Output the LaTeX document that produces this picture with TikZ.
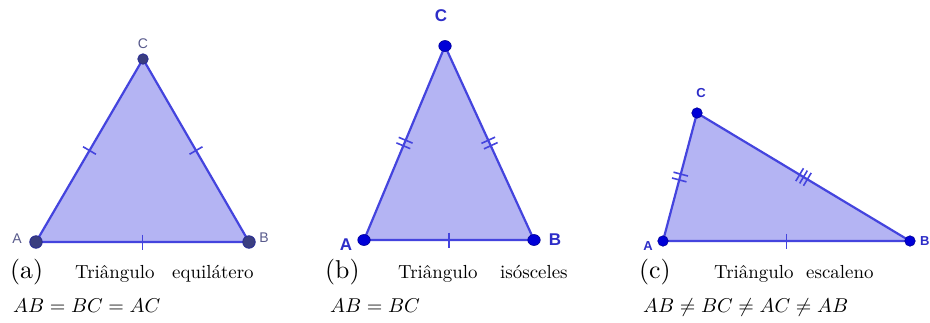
\documentclass[tikz,border=0pt]{standalone}
\usepackage{fontspec}
\newfontfamily\labfont{Liberation Sans}
\usetikzlibrary{calc,shapes.geometric}
\definecolor{edgeblue}{RGB}{68,68,222}
\definecolor{fillblue}{RGB}{180,180,243}
\definecolor{dotdark}{RGB}{58,62,128}
\definecolor{dotdarkrim}{RGB}{40,44,150}
\definecolor{dotblue}{RGB}{0,0,215}
\definecolor{dotbluerim}{RGB}{0,0,150}
\definecolor{labgray}{RGB}{88,90,140}
\definecolor{labblue}{RGB}{45,45,200}
\tikzset{
  tri/.style={draw=edgeblue, fill=fillblue, line width=2.2pt, line join=round},
  tickline/.style={draw=edgeblue, line width=1.6pt},
  dota/.style={circle, fill=dotdark, draw=dotdarkrim, line width=0.8pt, inner sep=0pt, minimum size=12.5pt},
  dotb/.style={ellipse, fill=dotblue, draw=dotbluerim, line width=0.6pt, inner sep=0pt, minimum width=12.5pt, minimum height=11pt},
  dotc/.style={circle, fill=dotblue, draw=dotbluerim, line width=0.6pt, inner sep=0pt, minimum size=10.5pt},
  laba/.style={text=labgray, font=\labfont\fontsize{14}{14}\selectfont, inner sep=0pt},
  labb/.style={text=labblue, font=\labfont\bfseries\fontsize{17}{17}\selectfont, inner sep=0pt},
  labc/.style={text=labblue, font=\labfont\bfseries\fontsize{13}{13}\selectfont, inner sep=0pt},
  sublab/.style={anchor=base west, inner sep=0pt, font=\fontsize{10}{12}\selectfont},
  captxt/.style={anchor=base west, inner sep=0pt, font=\fontsize{10}{12}\selectfont},
  mathtxt/.style={anchor=base west, inner sep=0pt, font=\fontsize{10}{12}\selectfont},
}
\newcommand{\subl}[1]{\scalebox{2.58}{#1}}
\newcommand{\capt}[1]{\scalebox{1.89}{#1}}
\newcommand{\mtxt}[1]{\scalebox{2.0}{#1}}
% single tick at middle of edge #1--#2
\newcommand{\onetick}[2]{%
  \coordinate (tkM) at ($(#1)!0.5!(#2)$);
  \draw[tickline] ($(tkM)!7.5pt!90:(#2)$) -- ($(tkM)!7.5pt!-90:(#2)$);}
\newcommand{\twotick}[2]{%
  \coordinate (tkM) at ($(#1)!0.5!(#2)$);
  \coordinate (tkP) at ($(tkM)!3pt!(#2)$);
  \coordinate (tkQ) at ($(tkM)!-3pt!(#2)$);
  \draw[tickline] ($(tkP)!7.5pt!90:(#2)$) -- ($(tkP)!7.5pt!-90:(#2)$);
  \draw[tickline] ($(tkQ)!7.5pt!90:(#2)$) -- ($(tkQ)!7.5pt!-90:(#2)$);}
\newcommand{\threetick}[2]{%
  \coordinate (tkM) at ($(#1)!0.5!(#2)$);
  \coordinate (tkP) at ($(tkM)!4.5pt!(#2)$);
  \coordinate (tkQ) at ($(tkM)!-4.5pt!(#2)$);
  \draw[tickline] ($(tkP)!7.5pt!90:(#2)$) -- ($(tkP)!7.5pt!-90:(#2)$);
  \draw[tickline] ($(tkM)!7.5pt!90:(#2)$) -- ($(tkM)!7.5pt!-90:(#2)$);
  \draw[tickline] ($(tkQ)!7.5pt!90:(#2)$) -- ($(tkQ)!7.5pt!-90:(#2)$);}
\begin{document}
\begin{tikzpicture}[x=1pt,y=-1pt]
\useasboundingbox[fill=white] (0,0) rectangle (930,322);

% ---------- (a) equilateral ----------
\coordinate (aA) at (36,242);
\coordinate (aB) at (249,242);
\coordinate (aC) at (143,59);
\draw[tri] (aA) -- (aB) -- (aC) -- cycle;
\onetick{aA}{aC}
\onetick{aB}{aC}
\onetick{aA}{aB}
\node[dota] (daA) at (aA) {};
\node[dota] (daB) at (aB) {};
\node[dota, minimum size=10.5pt] (daC) at (aC) {};
\node[laba] (laA) at (17,239) {A};
\node[laba] (laB) at (264,238) {B};
\node[laba] (laC) at (143,44) {C};

% ---------- (b) isosceles ----------
\coordinate (bA) at (364,240);
\coordinate (bB) at (534,240);
\coordinate (bC) at (445,46);
\draw[tri] (bA) -- (bB) -- (bC) -- cycle;
\twotick{bA}{bC}
\twotick{bB}{bC}
\onetick{bA}{bB}
\node[dotb] (dbA) at (bA) {};
\node[dotb] (dbB) at (bB) {};
\node[dotb] (dbC) at (bC) {};
\node[labb] (lbA) at (346,245) {A};
\node[labb] (lbB) at (555,240) {B};
\node[labb] (lbC) at (441,16) {C};

% ---------- (c) scalene ----------
\coordinate (cA) at (663,241);
\coordinate (cB) at (910,241);
\coordinate (cC) at (697,113);
\draw[tri] (cA) -- (cB) -- (cC) -- cycle;
\twotick{cA}{cC}
\threetick{cB}{cC}
\onetick{cA}{cB}
\node[dotc] (dcA) at (cA) {};
\node[dotc] (dcB) at (cB) {};
\node[dotc] (dcC) at (cC) {};
\node[labc] (lcA) at (648,246) {A};
\node[labc, anchor=west] (lcB) at (920,241) {B};
\node[labc] (lcC) at (701,93) {C};

% ---------- captions ----------
\node[sublab] (sa) at (10,278) {\subl{(a)}};
\node[captxt] (ta1) at (75,278) {\capt{Triângulo}};
\node[captxt] (ta2) at (172,278) {\capt{equilátero}};
\node[mathtxt] (ma) at (13,312) {\mtxt{$AB=BC=AC$}};

\node[sublab] (sb) at (325,278) {\subl{(b)}};
\node[captxt] (tb1) at (398,278) {\capt{Triângulo}};
\node[captxt] (tb2) at (500,278) {\capt{isósceles}};
\node[mathtxt] (mb) at (330,312) {\mtxt{$AB=BC$}};

\node[sublab] (sc) at (639,278) {\subl{(c)}};
\node[captxt] (tc1) at (714,278) {\capt{Triângulo}};
\node[captxt] (tc2) at (806,278) {\capt{escaleno}};
\node[mathtxt] (mc) at (643,312) {\mtxt{$AB\neq BC\neq AC\neq AB$}};
\end{tikzpicture}
\end{document}
